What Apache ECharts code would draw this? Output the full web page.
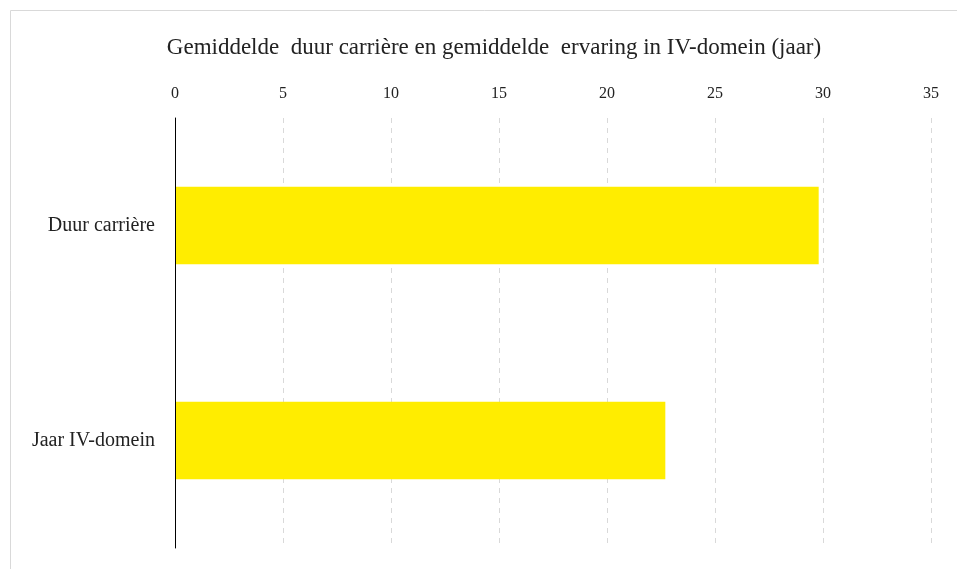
<!DOCTYPE html>
<html>
<head>
<meta charset="utf-8">
<script src="https://cdn.jsdelivr.net/npm/echarts@6/dist/echarts.min.js"></script>
<style>
  html, body { margin: 0; padding: 0; background: #fff; }
  #chart { width: 957px; height: 569px; }
</style>
</head>
<body>
<div id="chart"></div>
<script>
const categories = ["Duur carrière", "Jaar IV-domein"];
const values = [29.8, 22.7];
const axisMin = 0;
const axisMax = 35;
const axisStep = 5;

const font = "'Liberation Serif', serif";
const chart = echarts.init(document.getElementById("chart"));

const option = {
  animation: false,
  graphic: [
    {
      type: "rect",
      shape: { x: 10.5, y: 10.5, width: 960, height: 580 },
      style: { fill: "none", stroke: "#d9d9d9", lineWidth: 1 },
      silent: true,
    },
  ],
  title: {
    text: "Gemiddelde  duur carrière en gemiddelde  ervaring in IV-domein (jaar)",
    left: 489,
    top: 31,
    textAlign: "center",
    textStyle: { fontFamily: font, fontSize: 23, fontWeight: "normal", color: "#222" },
  },
  grid: { left: 175, right: 26, top: 118, bottom: 21 },
  xAxis: {
    type: "value",
    position: "top",
    min: axisMin,
    max: axisMax,
    interval: axisStep,
    axisLine: { show: false },
    axisTick: { show: false },
    axisLabel: { fontFamily: font, fontSize: 16, color: "#222", margin: 16 },
    splitLine: { show: true, lineStyle: { type: [5, 5], color: "#d9d9d9", width: 1 } },
  },
  yAxis: {
    type: "category",
    inverse: true,
    data: categories,
    z: 5,
    axisLine: { show: true, lineStyle: { color: "#000", width: 1 } },
    axisTick: { show: false },
    axisLabel: { fontFamily: font, fontSize: 20, color: "#222", margin: 20 },
  },
  series: [
    {
      type: "bar",
      data: values,
      barCategoryGap: "64%",
      itemStyle: { color: "#FFED00" },
    },
  ],
};
chart.setOption(option);
</script>
</body>
</html>
